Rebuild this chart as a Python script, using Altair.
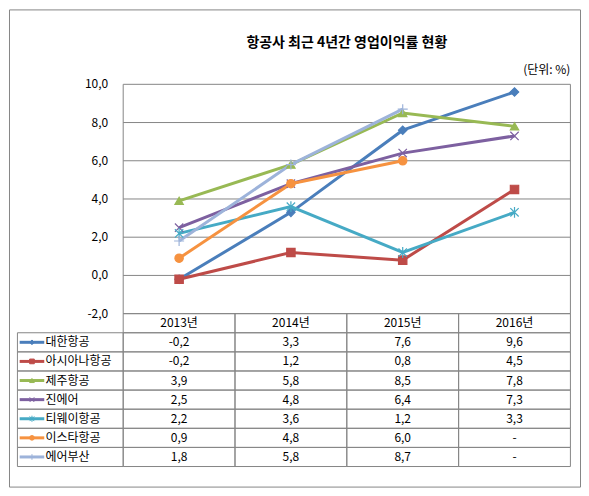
import altair as alt
import pandas as pd

# 항공사 최근 4년간 영업이익률 (단위: %)
years = ["2013년", "2014년", "2015년", "2016년"]
airlines = ["대한항공", "아시아나항공", "제주항공", "진에어", "티웨이항공", "이스타항공", "에어부산"]
korean_air = [-0.2, 3.3, 7.6, 9.6]
asiana = [-0.2, 1.2, 0.8, 4.5]
jeju_air = [3.9, 5.8, 8.5, 7.8]
jin_air = [2.5, 4.8, 6.4, 7.3]
tway_air = [2.2, 3.6, 1.2, 3.3]
eastar_jet = [0.9, 4.8, 6.0, None]
air_busan = [1.8, 5.8, 8.7, None]
y_ticks = [-2, 0, 2, 4, 6, 8, 10]

title = "항공사 최근 4년간 영업이익률 현황"
unit = "(단위: %)"

colors = ["#4A7EBB", "#BE4B48", "#98B954", "#7D60A0", "#46AAC5", "#F69240", "#9DB3DA"]
shapes = [
    "diamond",
    "square",
    "triangle-up",
    "M-1,-1L1,1M-1,1L1,-1",
    "M-1,-1L1,1M-1,1L1,-1M0,-1.3L0,1.3",
    "circle",
    "M0,-1.2L0,1.2M-1.2,0L1.2,0",
]

FONT = "Noto Sans CJK KR"
GRID = "#868686"
W, H = 572, 478
LEG_LEFT = -0.946  # left edge of the legend column, in column units

x_scale = alt.Scale(domain=[-1.0214, 4.0857], nice=False, zero=False)
y_scale = alt.Scale(domain=[-11.05, 13.92], nice=False, zero=False)
color_scale = alt.Scale(domain=airlines, range=colors)
shape_scale = alt.Scale(domain=airlines, range=shapes)


def X(field):
    return alt.X(field, type="quantitative", scale=x_scale, axis=None)


def Y(field):
    return alt.Y(field, type="quantitative", scale=y_scale, axis=None)


def fmt(v):
    return "-" if v is None else f"{v:.1f}".replace(".", ",")


# long table: one row per airline / year
rows = []
series = [korean_air, asiana, jeju_air, jin_air, tway_air, eastar_jet, air_busan]
for r, (name, vals) in enumerate(zip(airlines, series)):
    for c, (yr, v) in enumerate(zip(years, vals)):
        rows.append({"airline": name, "year": yr, "col": c, "row": r, "value": v, "label": fmt(v)})
df = pd.DataFrame(rows)
df["xc"] = df["col"] + 0.5
df["x0"] = df["col"]
df["x1"] = df["col"] + 1
table_top = y_ticks[0]
df["y0"] = table_top - 1 - df["row"]
df["y1"] = df["y0"] - 1
df["yc"] = df["y0"] - 0.5

df_line = df.dropna(subset=["value"])

df_years = pd.DataFrame({"year": years, "col": range(len(years))})
df_years["xc"] = df_years["col"] + 0.5
df_years["x0"] = df_years["col"]
df_years["x1"] = df_years["col"] + 1
df_years["y0"] = table_top
df_years["y1"] = table_top - 1
df_years["yc"] = table_top - 0.5

df_leg = pd.DataFrame({"airline": airlines, "row": range(len(airlines))})
df_leg["x0"] = LEG_LEFT
df_leg["x1"] = 0
df_leg["y0"] = table_top - 1 - df_leg["row"]
df_leg["y1"] = df_leg["y0"] - 1
df_leg["yc"] = df_leg["y0"] - 0.5
df_leg["sx0"] = LEG_LEFT + 0.02
df_leg["sx1"] = LEG_LEFT + 0.24
df_leg["sxc"] = LEG_LEFT + 0.13
df_leg["tx"] = LEG_LEFT + 0.25

cells = pd.concat([df[["x0", "x1", "y0", "y1"]], df_years[["x0", "x1", "y0", "y1"]],
                   df_leg[["x0", "x1", "y0", "y1"]]])

df_ticks = pd.DataFrame({"v": y_ticks, "label": [fmt(float(t)) for t in y_ticks]})
df_ticks["x0"] = 0
df_ticks["x1"] = len(years)

df_edges = pd.DataFrame({"x": [0, len(years)], "y0": y_ticks[0], "y1": y_ticks[-1]})
df_title = pd.DataFrame({"t": [title], "x": [len(years) / 2], "y": [y_ticks[-1]]})
df_unit = pd.DataFrame({"t": [unit], "x": [len(years)], "y": [y_ticks[-1]]})

grid = alt.Chart(df_ticks).mark_rule(color=GRID, strokeWidth=1).encode(
    x=X("x0"), x2="x1", y=Y("v")
)
edges = alt.Chart(df_edges).mark_rule(color=GRID, strokeWidth=1).encode(
    x=X("x"), y=Y("y0"), y2="y1"
)
ylabels = alt.Chart(df_ticks).mark_text(align="right", baseline="middle", dx=-15,
                                        font=FONT, fontSize=12, color="black").encode(
    x=X("x0"), y=Y("v"), text="label:N"
)
table = alt.Chart(cells).mark_rect(fill="transparent", stroke=GRID, strokeWidth=1).encode(
    x=X("x0"), x2="x1", y=Y("y0"), y2="y1"
)
header = alt.Chart(df_years).mark_text(baseline="middle", font=FONT, fontSize=12, color="black").encode(
    x=X("xc"), y=Y("yc"), text="year:N"
)
values = alt.Chart(df).mark_text(baseline="middle", font=FONT, fontSize=12, color="black").encode(
    x=X("xc"), y=Y("yc"), text="label:N"
)
leg_lines = alt.Chart(df_leg).mark_rule(strokeWidth=3).encode(
    x=X("sx0"), x2="sx1", y=Y("yc"),
    color=alt.Color("airline:N", scale=color_scale, legend=None),
)
leg_marks = alt.Chart(df_leg).mark_point(size=22, strokeWidth=1, opacity=1).encode(
    x=X("sxc"), y=Y("yc"),
    shape=alt.Shape("airline:N", scale=shape_scale, legend=None),
    fill=alt.Fill("airline:N", scale=color_scale, legend=None),
    stroke=alt.Stroke("airline:N", scale=color_scale, legend=None),
)
leg_text = alt.Chart(df_leg).mark_text(align="left", baseline="middle", font=FONT, fontSize=12,
                                       color="black").encode(
    x=X("tx"), y=Y("yc"), text="airline:N"
)
lines = alt.Chart(df_line).mark_line(strokeWidth=3).encode(
    x=X("xc"), y=Y("value"),
    color=alt.Color("airline:N", scale=color_scale, legend=None),
)
points = alt.Chart(df_line).mark_point(size=70, strokeWidth=1.2, opacity=1).encode(
    x=X("xc"), y=Y("value"),
    shape=alt.Shape("airline:N", scale=shape_scale, legend=None),
    fill=alt.Fill("airline:N", scale=color_scale, legend=None),
    stroke=alt.Stroke("airline:N", scale=color_scale, legend=None),
)
title_text = alt.Chart(df_title).mark_text(baseline="middle", dy=-41, font=FONT, fontSize=14,
                                           fontWeight="bold", color="black").encode(
    x=X("x"), y=Y("y"), text="t:N"
)
unit_text = alt.Chart(df_unit).mark_text(align="right", baseline="middle", dy=-14, font=FONT,
                                         fontSize=12, color="black").encode(
    x=X("x"), y=Y("y"), text="t:N"
)

chart = alt.layer(
    grid, edges, table, ylabels, header, values, leg_lines, leg_marks, leg_text,
    lines, points, title_text, unit_text,
).properties(width=W, height=H, padding=1).configure_view(stroke=GRID, strokeWidth=1)

chart.save("out.html", embed_options={"renderer": "svg", "actions": False})
